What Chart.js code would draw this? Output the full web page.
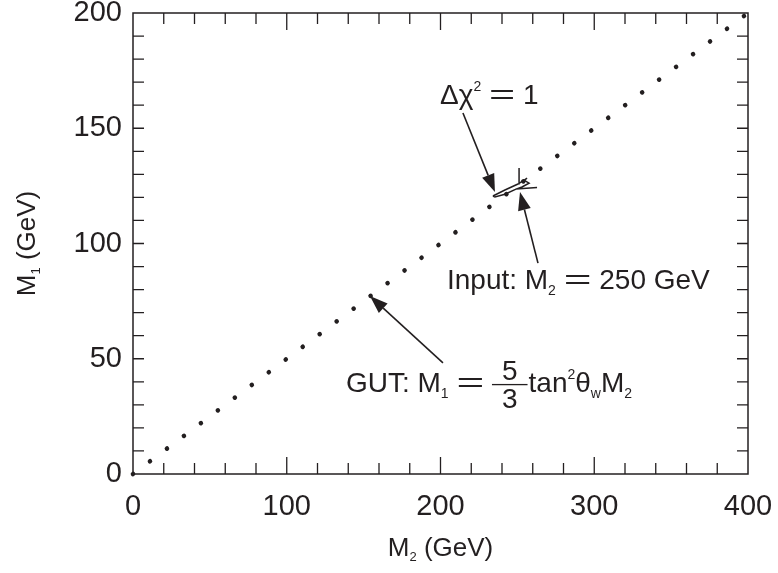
<!DOCTYPE html>
<html>
<head>
<meta charset="utf-8">
<script src="https://cdn.jsdelivr.net/npm/chart.js@4/dist/chart.umd.min.js"></script>
<style>
  html, body { margin: 0; padding: 0; background: #fff; }
</style>
</head>
<body>
<canvas id="mass-chart" width="778" height="573"></canvas>
<script>
const xTickLabels = [0, 100, 200, 300, 400];
const yTickLabels = [0, 50, 100, 150, 200];

// GUT relation M1 = 5/3 tan^2(theta_w) M2 (dotted straight line)
const gutM2 = [0, 400];
const gutM1 = [0, 200];

// delta chi^2 = 1 contour around the input point, null = pen up
const contourM2 = [234.1, 241.9, 250.4, 254.3, 257.6, 253.0, 249.1, 241.9, 235.4, 234.1, null, 251.1, 251.1, null, 249.1, 262.8, null, 253.7, 256.3];
const contourM1 = [120.6, 123.2, 125.8, 127.5, 126.2, 124.5, 123.6, 121.4, 120.2, 120.6, null, 132.8, 125.6, null, 123.6, 124.3, null, 127.1, 128.4];

const ink = "#231f20";
const fontFamily = "'Liberation Sans', Arial, Helvetica, sans-serif";

function arrow(ctx, x0, y0, x1, y1) {
    const ang = Math.atan2(y1 - y0, x1 - x0);
    const len = 18, half = 6.5;
    const bx = x1 - len * Math.cos(ang), by = y1 - len * Math.sin(ang);
    ctx.beginPath();
    ctx.moveTo(x0, y0);
    ctx.lineTo(bx, by);
    ctx.stroke();
    ctx.beginPath();
    ctx.moveTo(x1, y1);
    ctx.lineTo(bx + half * Math.sin(ang), by - half * Math.cos(ang));
    ctx.lineTo(bx - half * Math.sin(ang), by + half * Math.cos(ang));
    ctx.closePath();
    ctx.fill();
}

// draws text pieces with sub/superscripts, a wide "=" and a stacked fraction
function richText(ctx, x, y, parts, size) {
    for (const p of parts) {
        if (p.frac) {
            ctx.font = size + "px " + fontFamily;
            const w = Math.max(ctx.measureText(p.frac[0]).width, ctx.measureText(p.frac[1]).width) + 20;
            ctx.textAlign = "center";
            ctx.fillText(p.frac[0], x + w / 2, y - 12);
            ctx.fillText(p.frac[1], x + w / 2, y + 16);
            ctx.textAlign = "left";
            ctx.fillRect(x, y - 8, w, 1.3);
            x += w + 1;
            continue;
        }
        let s = size, dy = 0;
        if (p.sub) { s = size * 0.5; dy = size * 0.2; }
        if (p.sup) { s = size * 0.5; dy = -size * 0.45; }
        ctx.font = s + "px " + fontFamily;
        const sx = p.sx || 1;
        ctx.save();
        ctx.translate(x, y + dy);
        ctx.scale(sx, 1);
        ctx.fillText(p.t, 0, 0);
        ctx.restore();
        x += ctx.measureText(p.t).width * sx;
    }
    return x;
}

function richWidth(ctx, parts, size) {
    let w = 0;
    for (const p of parts) {
        const s = (p.sub || p.sup) ? size * 0.5 : size;
        ctx.font = s + "px " + fontFamily;
        w += ctx.measureText(p.t).width * (p.sx || 1);
    }
    return w;
}

const decorations = {
    id: "decorations",
    afterDraw(chart) {
        const ctx = chart.ctx;
        const a = chart.chartArea;
        const xs = chart.scales.x, ys = chart.scales.y;
        ctx.save();
        ctx.strokeStyle = ink;
        ctx.fillStyle = ink;
        ctx.lineWidth = 1.5;
        ctx.strokeRect(a.left, a.top, a.right - a.left, a.bottom - a.top);

        // inward ticks on all four sides
        ctx.lineWidth = 1.3;
        ctx.beginPath();
        for (let v = 20; v < 400; v += 20) {
            const px = xs.getPixelForValue(v);
            const len = v % 100 === 0 ? 17 : 11;
            ctx.moveTo(px, a.bottom); ctx.lineTo(px, a.bottom - len);
            ctx.moveTo(px, a.top); ctx.lineTo(px, a.top + len);
        }
        for (let v = 10; v < 200; v += 10) {
            const py = ys.getPixelForValue(v);
            ctx.moveTo(a.left, py); ctx.lineTo(a.left + 11, py);
            ctx.moveTo(a.right, py); ctx.lineTo(a.right - 11, py);
        }
        ctx.stroke();

        // arrows
        ctx.lineWidth = 1.6;
        const P = (m2, m1) => [xs.getPixelForValue(m2), ys.getPixelForValue(m1)];
        arrow(ctx, ...P(214.6, 156.6), ...P(235.4, 122.3));
        arrow(ctx, ...P(263.4, 91.5), ...P(251.7, 122.3));
        arrow(ctx, ...P(201.6, 48.2), ...P(154.1, 77.2));

        // annotations
        ctx.textBaseline = "alphabetic";
        ctx.textAlign = "left";
        richText(ctx, ...P(199.7, 160.5), [
            { t: "\u0394\u03c7" }, { t: "2", sup: true }, { t: " " }, { t: "=", sx: 1.6 }, { t: " 1" }
        ], 28);
        richText(ctx, ...P(204.2, 80.3), [
            { t: "Input: M" }, { t: "2", sub: true }, { t: " " }, { t: "=", sx: 1.7 }, { t: " 250 GeV" }
        ], 28);
        richText(ctx, ...P(138.5, 35.6), [
            { t: "GUT: M" }, { t: "1", sub: true }, { t: " " }, { t: "=", sx: 1.7 }, { t: " " },
            { frac: ["5", "3"] },
            { t: "tan" }, { t: "2", sup: true }, { t: "\u03b8" }, { t: "w", sub: true },
            { t: "M" }, { t: "2", sub: true }
        ], 28);

        // axis titles
        const xTitle = [{ t: "M" }, { t: "2", sub: true }, { t: " (GeV)" }];
        const xw = richWidth(ctx, xTitle, 26);
        richText(ctx, (a.left + a.right) / 2 - xw / 2, 556, xTitle, 26);

        const yTitle = [{ t: "M" }, { t: "1", sub: true }, { t: " (GeV)" }];
        const yw = richWidth(ctx, yTitle, 26);
        ctx.translate(35, (a.top + a.bottom) / 2);
        ctx.rotate(-Math.PI / 2);
        richText(ctx, -yw / 2, 0, yTitle, 26);
        ctx.restore();
    }
};

const massChart = new Chart(document.getElementById("mass-chart"), {
    type: "scatter",
    data: {
        datasets: [{
            label: "GUT",
            data: gutM2.map((m2, i) => ({ x: m2, y: gutM1[i] })),
            showLine: true,
            clip: false,
            borderColor: ink,
            borderWidth: 4.6,
            borderDash: [0.01, 21.2],
            borderCapStyle: "round",
            pointRadius: 0
        }, {
            label: "contour",
            data: contourM2.map((m2, i) => ({ x: m2, y: contourM1[i] })),
            showLine: true,
            spanGaps: false,
            borderColor: ink,
            borderWidth: 1.5,
            pointRadius: 0
        }]
    },
    options: {
        responsive: false,
        animation: false,
        devicePixelRatio: 1,
        layout: { padding: { left: 0, right: 30, top: 13, bottom: 0 } },
        plugins: { legend: { display: false }, tooltip: { enabled: false } },
        scales: {
            x: {
                type: "linear",
                min: 0, max: 400,
                afterBuildTicks: (s) => { s.ticks = xTickLabels.map(v => ({ value: v })); },
                ticks: { color: ink, padding: 16, font: { family: fontFamily, size: 29 }, maxRotation: 0 },
                grid: { display: false, drawTicks: false },
                border: { display: false },
                afterFit: (s) => { s.height = 99; s.paddingLeft = 0; s.paddingRight = 0; }
            },
            y: {
                type: "linear",
                min: 0, max: 200,
                afterBuildTicks: (s) => { s.ticks = yTickLabels.map(v => ({ value: v })); },
                ticks: { color: ink, padding: 11, font: { family: fontFamily, size: 29 } },
                grid: { display: false, drawTicks: false },
                border: { display: false },
                afterFit: (s) => { s.width = 133; s.paddingTop = 0; s.paddingBottom = 0; }
            }
        }
    },
    plugins: [decorations]
});
</script>
</body>
</html>
